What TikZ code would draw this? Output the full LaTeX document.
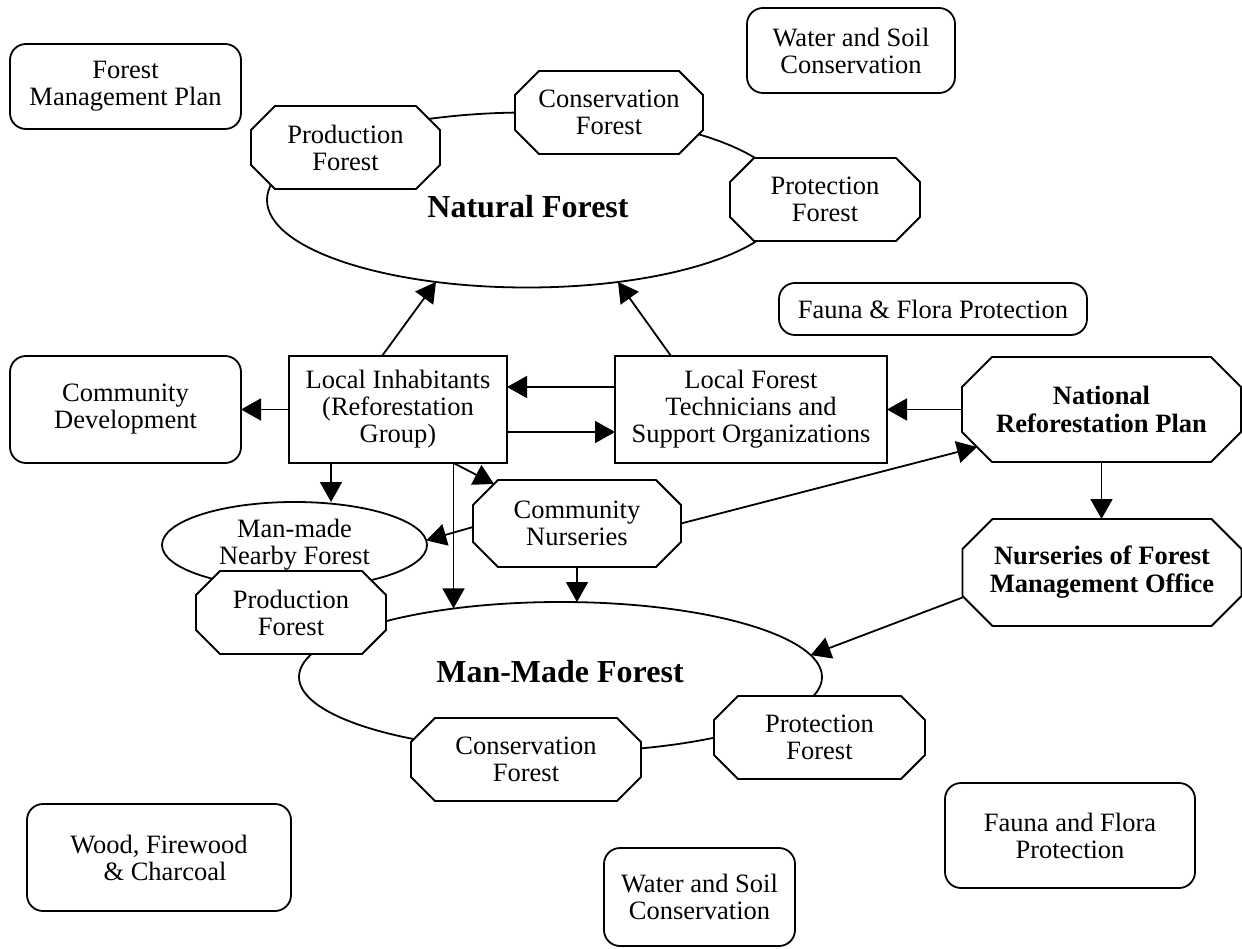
\documentclass[tikz,border=0pt]{standalone}
\usepackage{fontspec}
\setmainfont{Liberation Serif}
\usetikzlibrary{shapes.geometric,arrows.meta,calc}

\tikzset{
  txt/.style={font=\fontsize{26.5pt}{27pt}\selectfont, align=center},
  boldtxt/.style={font=\fontsize{26.5pt}{28pt}\selectfont\bfseries},
  bigbold/.style={font=\fontsize{32pt}{34pt}\selectfont\bfseries},
  plain/.style={txt, inner sep=0pt, outer sep=0pt},
  rbox/.style={plain, draw, line width=1.8pt, rounded corners=16pt},
  sbox/.style={plain, draw, line width=1.8pt},
  oval/.style={plain, ellipse, draw, line width=1.8pt},
  octline/.style={draw=black, fill=white, line width=1.8pt, line join=miter},
  arr/.style={-{Triangle[length=20pt,width=22pt]}, line width=1.8pt},
}

% octagonal node: name, centre x, centre y, width, height, corner cut, extra style, text
\newcommand\octnode[8]{%
  \filldraw[octline] ({#2-#4/2+#6},{#3+#5/2}) -- ++({#4-2*#6},0) -- ++(#6,-#6)
    -- ++(0,{-(#5-2*#6)}) -- ++(-#6,-#6) -- ++({-(#4-2*#6)},0) -- ++(-#6,#6)
    -- ++(0,{#5-2*#6}) -- cycle;
  \node[plain, minimum width=#4pt, minimum height=#5pt, #7] (#1) at (#2,#3) {#8};
}

\begin{document}
\begin{tikzpicture}[x=1pt,y=1pt]
\fill[white] (0,0) rectangle (1242,-949);
\useasboundingbox (0,0) rectangle (1242,-949);

% forest ellipses
\node[oval, minimum width=520pt, minimum height=175pt] (nf) at (527,-200) {};
\node[oval, minimum width=523pt, minimum height=150pt] (mm) at (560.5,-677) {};
\node[oval, minimum width=265pt, minimum height=86pt] (mnf) at (294.5,-545) {Man-made\\Nearby Forest};
\node[bigbold] (nft) at (528,-207) {Natural Forest};
\node[bigbold] (mmt) at (560,-672) {Man-Made Forest};

% forest categories around the natural forest
\octnode{pfa}{345.5}{-147.5}{189}{83}{24}{}{Production\\Forest}
\octnode{cfa}{609}{-112.5}{188}{83}{24}{}{Conservation\\Forest}
\octnode{pra}{825}{-199.5}{190}{83}{24}{}{Protection\\Forest}

% forest categories around the man-made forest
\octnode{pfb}{291}{-612.5}{190}{83}{24}{}{Production\\Forest}
\octnode{cfb}{526}{-759.5}{230}{83}{24}{}{Conservation\\Forest}
\octnode{prb}{819.5}{-737.5}{211}{83}{24}{}{Protection\\Forest}

% nurseries and plans
\octnode{cn}{577}{-523.5}{208}{87}{25}{}{Community\\Nurseries}
\octnode{nrp}{1101.5}{-409.5}{279}{105}{30}{boldtxt}{National\\Reforestation Plan}
\octnode{nfmo}{1102}{-572.5}{279}{107}{30}{boldtxt}{Nurseries of Forest\\Management Office}

% actors
\node[sbox, minimum width=218pt, minimum height=107pt] (li) at (398,-409.5) {Local Inhabitants\\(Reforestation\\Group)};
\node[sbox, minimum width=272pt, minimum height=107pt] (lft) at (751,-409.5) {Local Forest\\Technicians and\\Support Organizations};

% outcomes
\node[rbox, minimum width=231pt, minimum height=85pt] (fmp) at (125.5,-86.5) {Forest\\Management Plan};
\node[rbox, minimum width=208pt, minimum height=85pt] (wsa) at (851,-50.5) {Water and Soil\\Conservation};
\node[rbox, minimum width=308pt, minimum height=52pt] (ffa) at (933,-309) {Fauna \& Flora Protection};
\node[rbox, minimum width=231pt, minimum height=107pt] (cd) at (125.5,-409.5) {Community\\Development};
\node[rbox, minimum width=264pt, minimum height=107pt] (wfc) at (159,-857.5) {Wood, Firewood\\\hspace*{12pt}\& Charcoal};
\node[rbox, minimum width=250pt, minimum height=105pt] (ffb) at (1070,-835.5) {Fauna and Flora\\Protection};
\node[rbox, minimum width=191pt, minimum height=98pt] (wsb) at (699.5,-897) {Water and Soil\\Conservation};

% connectors
\draw[arr] ([xshift=93pt]li.north west) -- (nf.222.3);
\draw[arr] ([xshift=56pt]lft.north west) -- (nf.318);
\draw[arr] (li.west) -- (cd.east);
\draw[arr] ([yshift=22.5pt]lft.west) -- ([yshift=22.5pt]li.east);
\draw[arr] ([yshift=-22.5pt]li.east) -- ([yshift=-22.5pt]lft.west);
\draw[arr] (nrp.west) -- (lft.east);
\draw[arr] (nrp.south) -- (nrp.south |- nfmo.north);
\draw[arr] ([yshift=-25pt]nfmo.west) -- (mm.5.7);
\coordinate (liA) at ([xshift=42pt]li.south west);
\coordinate (liB) at ([xshift=164.5pt]li.south west);
\draw[arr] (liA) -- (liA |- mnf.north);
\draw[arr] (liB) -- (liB |- mm.147.5);
\draw[arr] (liB) -- ([xshift=21pt,yshift=-4pt]cn.north west);
\draw[arr] ([yshift=-3.5pt]cn.west) -- (mnf.2);
\draw[arr] (cn.south) -- (cn.south |- mm.north);
\draw[arr] (cn.east) -- ([xshift=15pt,yshift=15pt]nrp.south west);
\end{tikzpicture}
\end{document}
